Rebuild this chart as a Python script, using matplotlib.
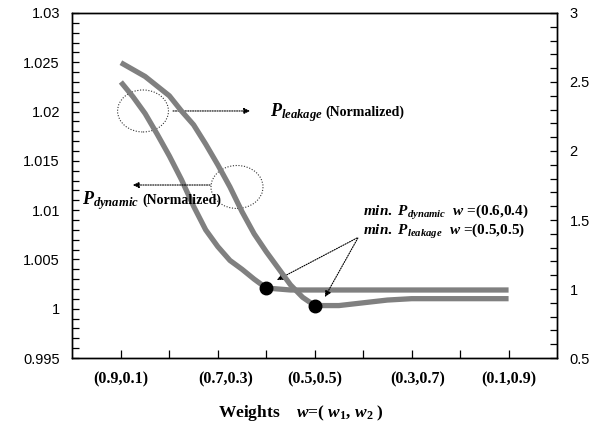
import matplotlib
matplotlib.use("Agg")
import matplotlib.pyplot as plt
from matplotlib.patches import Ellipse
from matplotlib.ticker import MultipleLocator, FuncFormatter
from matplotlib.transforms import offset_copy

plt.rcParams["font.family"] = ["Liberation Sans", "DejaVu Sans"]
plt.rcParams["mathtext.fontset"] = "custom"
plt.rcParams["mathtext.rm"] = "Liberation Serif:bold"
plt.rcParams["mathtext.it"] = "Liberation Serif:italic:bold"
plt.rcParams["mathtext.bf"] = "Liberation Serif:bold"

# weights w1 = 1.0 - 0.1*x  (x = 1 -> (0.9,0.1) ... x = 9 -> (0.1,0.9))
weight_labels = ["(0.9,0.1)", "(0.7,0.3)", "(0.5,0.5)", "(0.3,0.7)", "(0.1,0.9)"]

# P_dynamic (left axis)
x_dyn = [1, 1.25, 1.5, 1.75, 2, 2.25, 2.5, 2.75, 3, 3.25, 3.5, 3.75, 4,
         4.5, 5, 6, 7, 8, 9]
p_dyn = [1.0230, 1.0215, 1.0198, 1.0177, 1.0155, 1.0131, 1.0104, 1.0080,
         1.0063, 1.0049, 1.0040, 1.0030, 1.0021,
         1.0019, 1.0019, 1.0019, 1.0019, 1.0019, 1.0019]

# P_leakage (right axis)
x_leak = [1, 1.25, 1.5, 1.75, 2, 2.25, 2.5, 2.75, 3, 3.25, 3.5, 3.75, 4,
          4.25, 4.5, 4.75, 5, 5.5, 6, 6.5, 7, 8, 9]
p_leak = [2.64, 2.59, 2.54, 2.47, 2.40, 2.29, 2.19, 2.05, 1.90, 1.74, 1.56,
          1.40, 1.27, 1.15, 1.03, 0.94, 0.88,
          0.88, 0.90, 0.92, 0.93, 0.93, 0.93]

min_dyn_x = 4   # w = (0.6,0.4)
min_leak_x = 5  # w = (0.5,0.5)

GRAY = "#808080"
SERIF = "Liberation Serif"

fig = plt.figure(figsize=(6.06, 4.26), dpi=100)
ax = fig.add_axes([0.1195, 0.1596, 0.7997, 0.8099])
ax2 = ax.twinx()

ax.plot(x_dyn, p_dyn, color=GRAY, lw=3.8, solid_capstyle="butt", zorder=2)
ax2.plot(x_leak, p_leak, color=GRAY, lw=3.8, solid_capstyle="butt", zorder=2)

ax.plot([min_dyn_x], [p_dyn[x_dyn.index(min_dyn_x)]], "o", color="black", ms=9, zorder=5)
ax2.plot([min_leak_x], [p_leak[x_leak.index(min_leak_x)]], "o", color="black", ms=9, zorder=5)

ax.set_xlim(0, 10)
ax.set_ylim(0.995, 1.03)
ax2.set_ylim(0.5, 3)

fmt = FuncFormatter(lambda v, pos: f"{v:g}")
ax.yaxis.set_major_locator(MultipleLocator(0.005))
ax.yaxis.set_minor_locator(MultipleLocator(0.001))
ax.yaxis.set_major_formatter(fmt)
ax2.yaxis.set_major_locator(MultipleLocator(0.5))
ax2.yaxis.set_minor_locator(MultipleLocator(0.1))
ax2.yaxis.set_major_formatter(fmt)

ax.set_xticks(range(1, 10))
ax.set_xticklabels([])
ax.tick_params(axis="x", direction="in", length=6, width=0.9)
ax.tick_params(axis="y", which="both", direction="in", length=5, width=0.9,
               pad=9, labelsize=10.5)
ax2.tick_params(axis="y", which="both", direction="in", length=5, width=0.9,
                pad=9, labelsize=10.5)
for a in (ax, ax2):
    for s in a.spines.values():
        s.set_linewidth(1.0)

# category labels under the axis (Excel put them slightly off the ticks)
label_pos = [1, 3.17, 5, 7.13, 9]
for xp, lab in zip(label_pos, weight_labels):
    ax.text(xp, -0.062, lab, transform=ax.get_xaxis_transform(), ha="center",
            va="center", family=SERIF, weight="bold", fontsize=11.5)

fig.text(301 / 606, 1 - 413 / 426,
         r"Weights    $w$=( $w_{\mathit{1}}$, $w_{\mathit{2}}$ )",
         ha="center", va="center", family=SERIF, weight="bold", fontsize=12.5)

# dotted circles + arrows pointing to the axes
ax.add_patch(Ellipse((1.457, 1.02006), 1.05, 0.00426, fill=False,
                     ls=(0, (1, 1.5)), lw=0.8, color="#333333"))
ax.add_patch(Ellipse((3.396, 1.01235), 1.073, 0.00436, fill=False,
                     ls=(0, (1, 1.5)), lw=0.8, color="#333333"))
arrow = dict(arrowstyle="-|>", ls=(0, (1, 1.2)), lw=0.8, color="black",
             mutation_scale=9, shrinkA=0, shrinkB=0)
ax.annotate("", xy=(3.665, 1.02006), xytext=(2.076, 1.02006), arrowprops=arrow)
ax.annotate("", xy=(1.248, 1.01255), xytext=(2.84, 1.01255), arrowprops=arrow)
ax.annotate("", xy=(4.22, 1.00291), xytext=(5.87, 1.00717), arrowprops=arrow)
ax.annotate("", xy=(5.21, 1.00119), xytext=(5.89, 1.00717), arrowprops=arrow)


def series_label(x, y, sub):
    t = ax.text(x, y, rf"$P_{{{sub}}}$", ha="left", va="baseline", fontsize=13)
    fig.canvas.draw()
    bb = t.get_window_extent()
    x_end = ax.transData.inverted().transform((bb.x1, 0))[0]
    ax.text(x_end, y, "(Normalized)", ha="left", va="baseline", family=SERIF,
            weight="bold", fontsize=10,
            transform=offset_copy(ax.transData, fig=fig, x=3, units="dots"))


series_label(4.077, 1.01955, "leakage")
series_label(0.198, 1.01062, "dynamic")

ax.text(5.997, 1.00941, r"$min.\ P_{dynamic}\ \ w$ =(0.6,0.4)", ha="left",
        va="baseline", family=SERIF, weight="bold", fontsize=11)
ax.text(5.997, 1.00748, r"$min.\ P_{leakage}\ \ w$ =(0.5,0.5)", ha="left",
        va="baseline", family=SERIF, weight="bold", fontsize=11)

fig.savefig("out.png", dpi=100)
